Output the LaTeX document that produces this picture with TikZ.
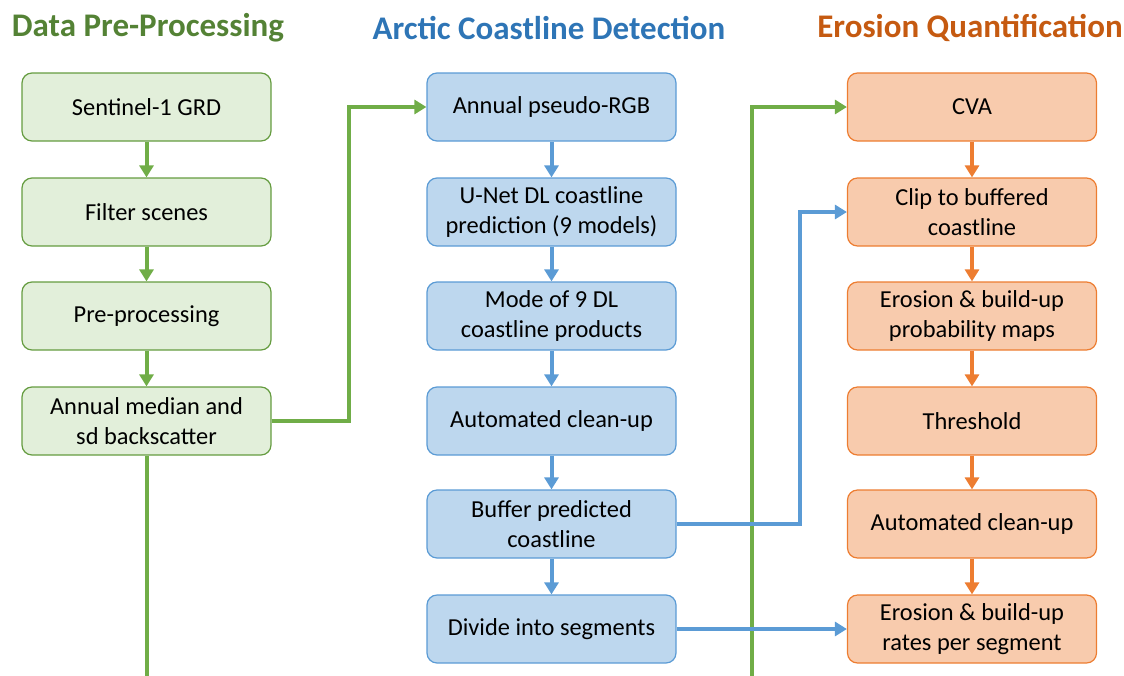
\documentclass[tikz,border=0pt]{standalone}
\usepackage{fontspec}
\setmainfont{Carlito}
\usetikzlibrary{arrows.meta,positioning}
\definecolor{gfill}{HTML}{E2EFDA}
\definecolor{gline}{HTML}{70AD47}
\definecolor{gtitle}{HTML}{548235}
\definecolor{bfill}{HTML}{BDD7EE}
\definecolor{bline}{HTML}{5B9BD5}
\definecolor{btitle}{HTML}{2E75B6}
\definecolor{ofill}{HTML}{F8CBAD}
\definecolor{oline}{HTML}{ED7D31}
\definecolor{otitle}{HTML}{C55A11}
\tikzset{
  box/.style={rounded corners=10pt, minimum width=249pt, minimum height=68pt, line width=1.2pt,
    align=center, font=\fontsize{24.4pt}{29.5pt}\selectfont, inner sep=0pt},
  gbox/.style={box, draw=gline!90!black, fill=gfill},
  bbox/.style={box, draw=bline, fill=bfill},
  obox/.style={box, draw=oline, fill=ofill},
  conn/.style={line width=4pt, -{Triangle[length=12pt,width=14pt]}},
  gconn/.style={conn, draw=gline, color=gline},
  bconn/.style={conn, draw=bline, color=bline},
  oconn/.style={conn, draw=oline, color=oline},
  title/.style={font=\fontsize{33pt}{36pt}\selectfont\bfseries, inner sep=0pt}
}
\begin{document}
\begin{tikzpicture}[x=1pt,y=-1pt]
\useasboundingbox (0,0) rectangle (1124,675);
% titles
\node[title, text=gtitle] (t1) at (148,28) {Data Pre-Processing};
\node[title, text=btitle] (t2) at (549,28) {Arctic Coastline Detection};
\node[title, text=otitle] (t3) at (970,28) {Erosion Quantification};
% green column
\node[gbox] (g1) at (146.5,107) {Sentinel-1 GRD};
\node[gbox] (g2) at (146.5,212) {Filter scenes};
\node[gbox] (g3) at (146.5,316) {Pre-processing};
\node[gbox] (g4) at (146.5,421) {Annual median and\\sd backscatter};
% blue column
\node[bbox] (b1) at (551.5,107) {Annual pseudo-RGB};
\node[bbox] (b2) at (551.5,212) {U-Net DL coastline\\prediction (9 models)};
\node[bbox] (b3) at (551.5,316) {Mode of 9 DL\\coastline products};
\node[bbox] (b4) at (551.5,421) {Automated clean-up};
\node[bbox] (b5) at (551.5,524) {Buffer predicted\\coastline};
\node[bbox] (b6) at (551.5,629) {Divide into segments};
% orange column
\node[obox] (o1) at (972,107) {CVA};
\node[obox] (o2) at (972,212) {Clip to buffered\\coastline};
\node[obox] (o3) at (972,316) {Erosion \& build-up\\probability maps};
\node[obox] (o4) at (972,421) {Threshold};
\node[obox] (o5) at (972,524) {Automated clean-up};
\node[obox] (o6) at (972,629) {Erosion \& build-up\\rates per segment};
% coordinates
\coordinate (c1) at (349,421);
\coordinate (c2) at (349,107);
\coordinate (c3) at (146.5,677.5);
\coordinate (c4) at (752,677.5);
\coordinate (c5) at (752,107);
\coordinate (c6) at (800,524);
\coordinate (c7) at (800,212);
% vertical arrows
\draw[gconn] (g1) -- (g2);
\draw[gconn] (g2) -- (g3);
\draw[gconn] (g3) -- (g4);
\draw[bconn] (b1) -- (b2);
\draw[bconn] (b2) -- (b3);
\draw[bconn] (b3) -- (b4);
\draw[bconn] (b4) -- (b5);
\draw[bconn] (b5) -- (b6);
\draw[oconn] (o1) -- (o2);
\draw[oconn] (o2) -- (o3);
\draw[oconn] (o3) -- (o4);
\draw[oconn] (o4) -- (o5);
\draw[oconn] (o5) -- (o6);
% cross connectors
\draw[gconn] (g4.east) -- (c1) -- (c2) -- (b1.west);
\draw[gconn] (g4.south) -- (c3) -- (c4) -- (c5) -- (o1.west);
\draw[bconn] (b5.east) -- (c6) -- (c7) -- (o2.west);
\draw[bconn] (b6.east) -- (o6.west);
\end{tikzpicture}
\end{document}
